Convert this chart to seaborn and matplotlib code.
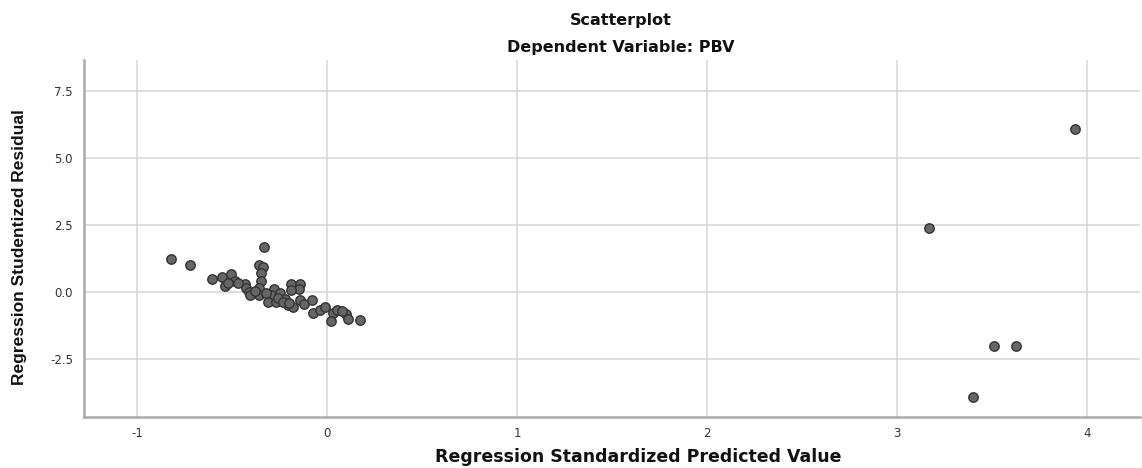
import matplotlib
matplotlib.use("Agg")
import matplotlib.pyplot as plt
import seaborn as sns
import pandas as pd

# Data
pred = [-0.823, -0.723, -0.332, -0.360, -0.337, -0.346, -0.346, -0.604, -0.551, -0.507,
        -0.539, -0.486, -0.433, -0.425, -0.410, -0.407, -0.358, -0.358, -0.281, -0.293,
        -0.246, -0.310, -0.267, -0.223, -0.205, -0.182, -0.188, -0.144, -0.147, -0.188,
        -0.144, -0.123, -0.079, -0.074, -0.039, -0.012, 0.032, 0.054, 0.102, 0.111,
        0.172, 0.023, -0.520, -0.470, -0.380, -0.320, -0.260, -0.230, -0.200, 0.080,
        3.94, 3.17, 3.51, 3.63, 3.40]
resid = [1.23, 1.02, 1.67, 1.01, 0.95, 0.72, 0.42, 0.47, 0.55, 0.67,
         0.24, 0.42, 0.30, 0.17, 0.01, -0.11, 0.14, -0.11, 0.10, -0.11,
         -0.05, -0.36, -0.36, -0.27, -0.49, -0.57, 0.30, 0.30, 0.10, 0.07,
         -0.30, -0.45, -0.30, -0.77, -0.67, -0.57, -0.77, -0.67, -0.80, -1.02,
         -1.04, -1.09, 0.35, 0.33, 0.05, -0.02, -0.22, -0.38, -0.40, -0.72,
         6.08, 2.39, -2.01, -2.01, -3.92]

xticks = [-1, 0, 1, 2, 3, 4]
yticks = [-2.5, 0.0, 2.5, 5.0, 7.5]

df = pd.DataFrame({"pred": pred, "resid": resid})

sns.set_theme(style="white")
plt.rcParams['font.family'] = ['DejaVu Sans']

fig = plt.figure(figsize=(11.42, 4.68), dpi=100)
ax = fig.add_axes([0.0736, 0.109, 0.9245, 0.763])

sns.scatterplot(data=df, x="pred", y="resid", ax=ax, s=46, color="#666666",
                edgecolor="#333333", linewidth=1.0, zorder=3)

ax.set_xlim(-1.28, 4.28)
ax.set_ylim(-4.66, 8.66)
ax.set_xticks(xticks)
ax.set_xticklabels([str(t) for t in xticks])
ax.set_yticks(yticks)
ax.set_yticklabels([f"{t:.1f}" for t in yticks])
ax.grid(True, color="#d4d4d4", linewidth=1.1, zorder=0)
ax.set_axisbelow(True)
ax.tick_params(axis="both", length=0, labelsize=8.5, colors="#333333")
ax.tick_params(axis="x", pad=7)
ax.tick_params(axis="y", pad=8)

for s in ["top", "right"]:
    ax.spines[s].set_visible(False)
for s in ["left", "bottom"]:
    ax.spines[s].set_color("#aaaaaa")
    ax.spines[s].set_linewidth(1.8)

ax.set_xlabel("")
ax.set_ylabel("")
fig.text(0.5585, 0.024, "Regression Standardized Predicted Value", ha="center",
         va="center", fontsize=12.5, fontweight="bold", color="#111111")
fig.text(0.017, 0.473, "Regression Studentized Residual", ha="center", va="center",
         rotation=90, fontsize=12.5, fontweight="bold", color="#111111",
         family=['Liberation Sans Narrow', 'Liberation Sans', 'DejaVu Sans'])

fig.text(0.5435, 0.957, "Scatterplot", ha="center", va="center", fontsize=11.5,
         fontweight="bold", color="#111111")
fig.text(0.5435, 0.899, "Dependent Variable: PBV", ha="center", va="center", fontsize=11.5,
         fontweight="bold", color="#111111")

fig.savefig("out.png", dpi=100)
